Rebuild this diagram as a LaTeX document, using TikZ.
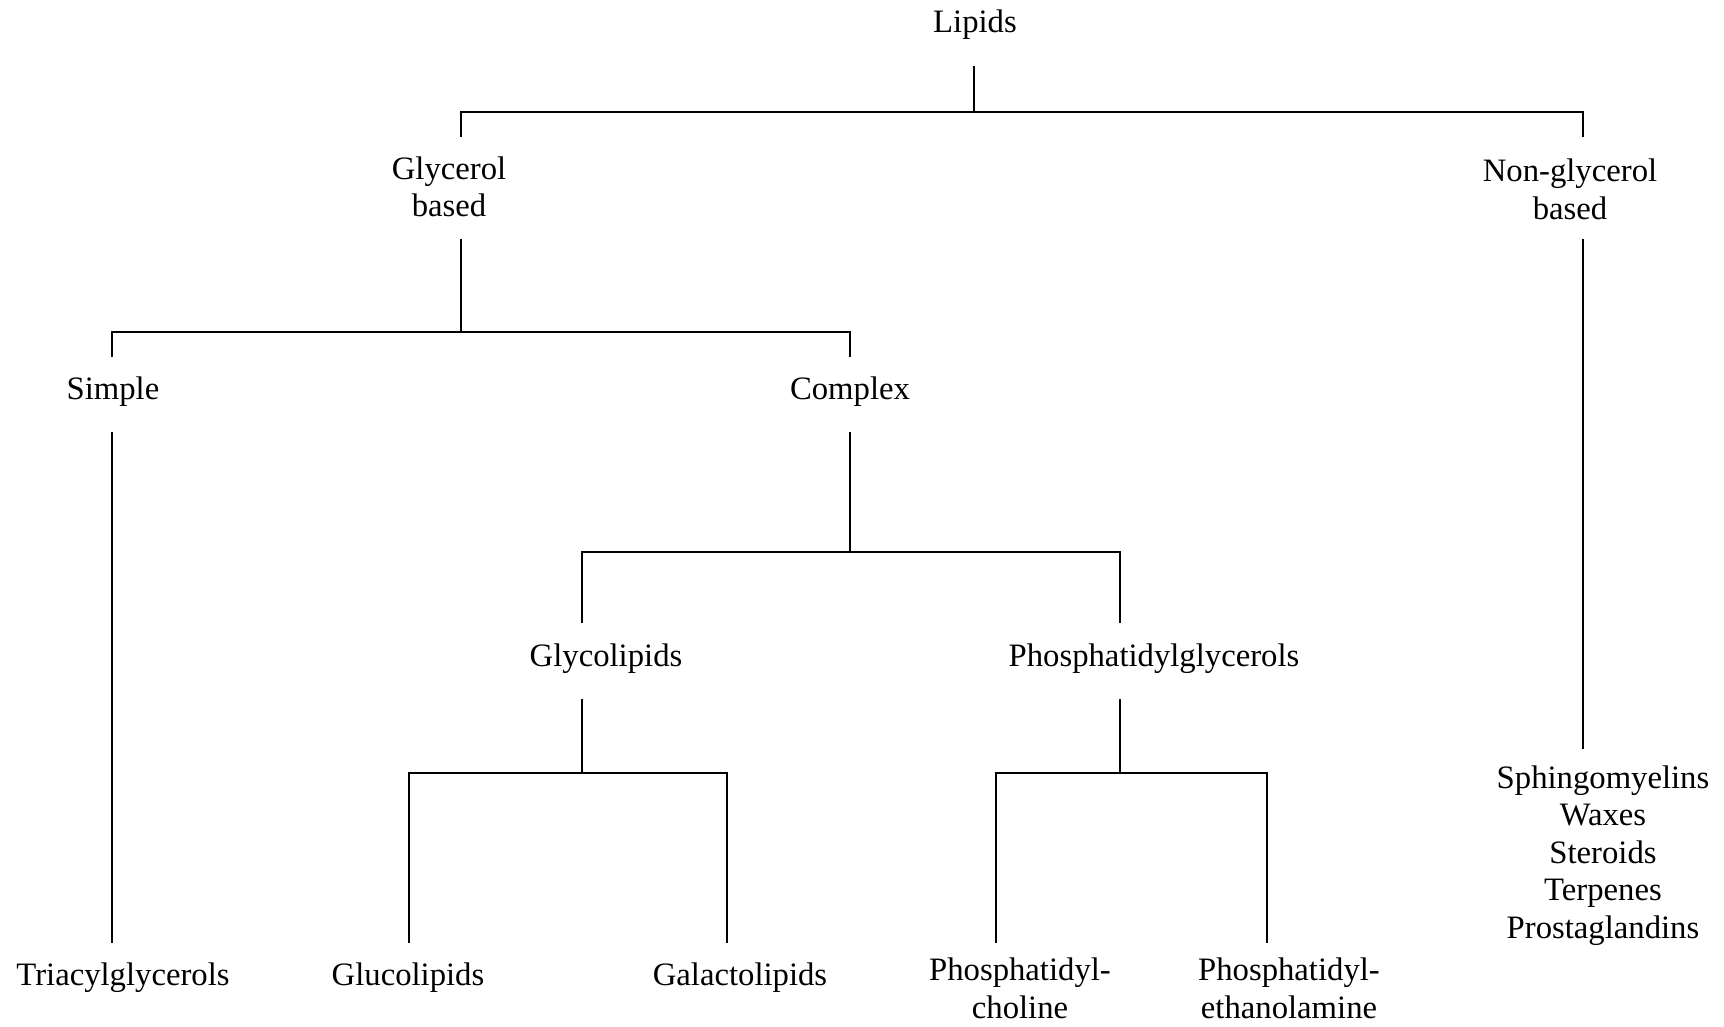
\documentclass[tikz,border=0pt]{standalone}
\usepackage{fontspec}
\setmainfont{Liberation Serif}
\begin{document}
\begin{tikzpicture}[x=1pt,y=-1pt,
  lbl/.style={font=\fontsize{32.7}{37.5}\selectfont, inner sep=0pt, anchor=base, align=center},
  ln/.style={line width=1.8pt}]
\useasboundingbox (0,0) rectangle (1724,1027);
% labels (anchor=base is the baseline of the last line)
\node[lbl] (lipids) at (975,33) {Lipids};
\node[lbl] (glyc) at (449,217) {Glycerol\\based};
\node[lbl] (nong) at (1570,219) {Non-glycerol\\based};
\node[lbl] (simple) at (113,399) {Simple};
\node[lbl] (complex) at (850,399) {Complex};
\node[lbl] (glyco) at (606,666) {Glycolipids};
\node[lbl] (phosg) at (1154,666) {Phosphatidylglycerols};
\node[lbl] (nglist) at (1603,938) {Sphingomyelins\\Waxes\\Steroids\\Terpenes\\Prostaglandins};
\node[lbl] (tri) at (123,985) {Triacylglycerols};
\node[lbl] (gluco) at (408,985) {Glucolipids};
\node[lbl] (galacto) at (740,985) {Galactolipids};
\node[lbl] (pchol) at (1020,1018) {Phosphatidyl-\\choline};
\node[lbl] (peth) at (1289,1018) {Phosphatidyl-\\ethanolamine};
% connector end points
\coordinate (lipids-s) at (974,66);
\coordinate (j1) at (974,112);
\coordinate (glyc-n) at (461,137);
\coordinate (nong-n) at (1583,137);
\coordinate (glyc-s) at (461,239);
\coordinate (j2) at (461,332);
\coordinate (simple-n) at (112,357);
\coordinate (complex-n) at (850,357);
\coordinate (simple-s) at (112,432);
\coordinate (tri-n) at (112,943);
\coordinate (complex-s) at (850,432);
\coordinate (j3) at (850,552);
\coordinate (glyco-n) at (582,623);
\coordinate (phosg-n) at (1120,623);
\coordinate (glyco-s) at (582,699);
\coordinate (j4) at (582,773);
\coordinate (gluco-n) at (409,943);
\coordinate (galacto-n) at (727,943);
\coordinate (phosg-s) at (1120,699);
\coordinate (j5) at (1120,773);
\coordinate (pchol-n) at (996,943);
\coordinate (peth-n) at (1267,943);
\coordinate (nong-s) at (1583,239);
\coordinate (nglist-n) at (1583,749);
% connectors
\draw[ln] (lipids-s) -- (j1);
\draw[ln] (glyc-n) |- (j1) -| (nong-n);
\draw[ln] (glyc-s) -- (j2);
\draw[ln] (simple-n) |- (j2) -| (complex-n);
\draw[ln] (simple-s) -- (tri-n);
\draw[ln] (complex-s) -- (j3);
\draw[ln] (glyco-n) |- (j3) -| (phosg-n);
\draw[ln] (glyco-s) -- (j4);
\draw[ln] (gluco-n) |- (j4) -| (galacto-n);
\draw[ln] (phosg-s) -- (j5);
\draw[ln] (pchol-n) |- (j5) -| (peth-n);
\draw[ln] (nong-s) -- (nglist-n);
\end{tikzpicture}
\end{document}
